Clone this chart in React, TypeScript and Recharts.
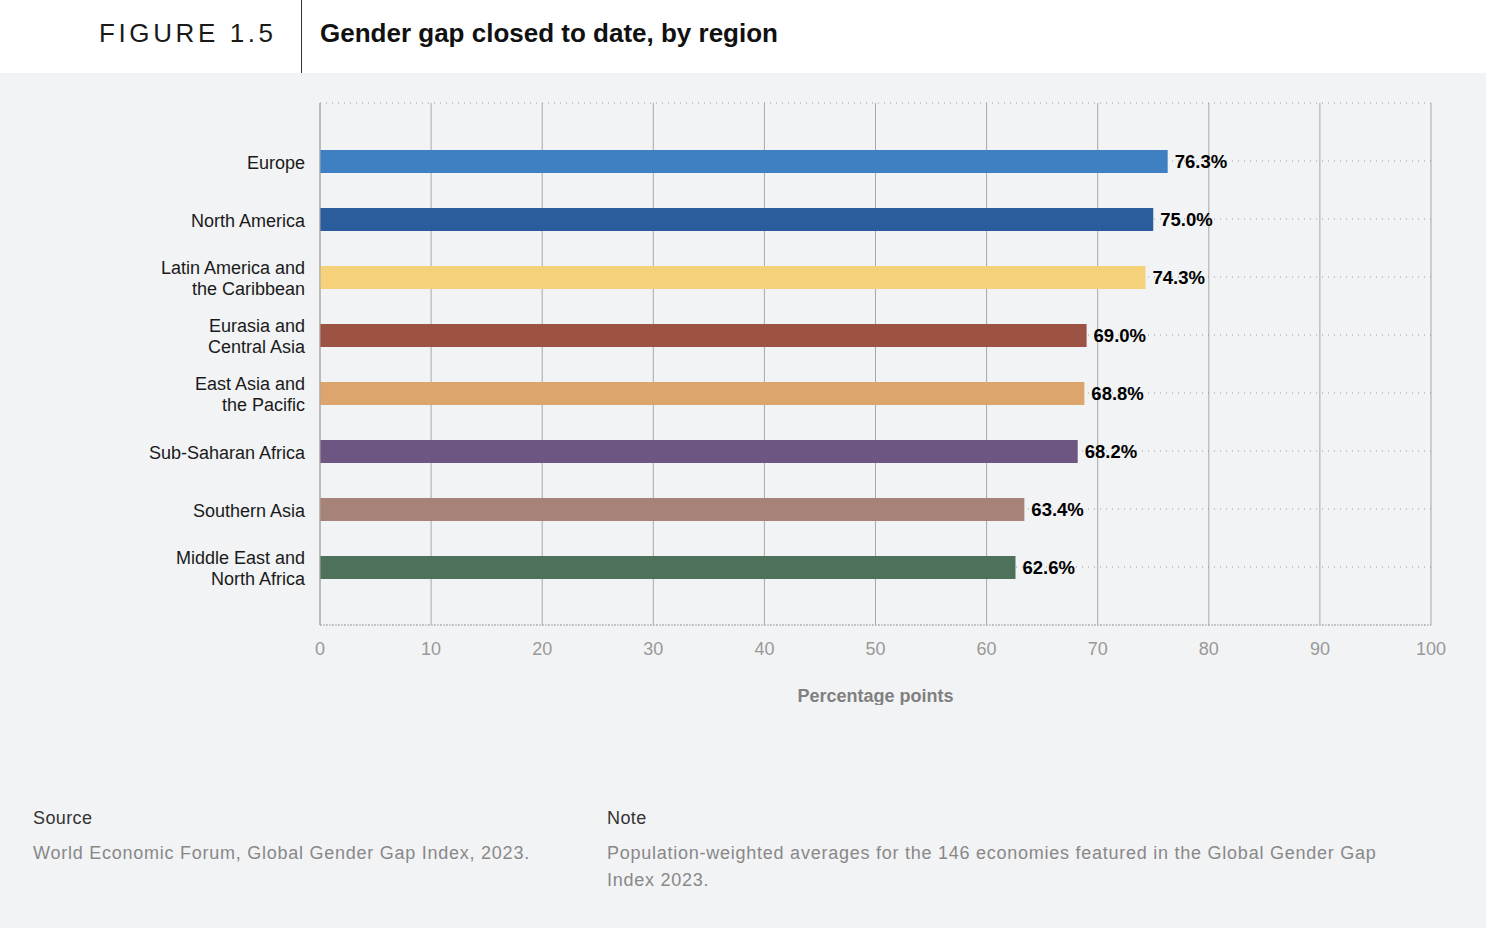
import React from "react";
import { BarChart, Bar, XAxis, YAxis, CartesianGrid, LabelList, Cell } from "recharts";

const regions = [
  "Europe",
  "North America",
  "Latin America and\nthe Caribbean",
  "Eurasia and\nCentral Asia",
  "East Asia and\nthe Pacific",
  "Sub-Saharan Africa",
  "Southern Asia",
  "Middle East and\nNorth Africa",
];
const values = [76.3, 75.0, 74.3, 69.0, 68.8, 68.2, 63.4, 62.6];
const colors = ["#3e80c2", "#2b5c9c", "#f5d27a", "#9d5343", "#dca56d", "#6e5683", "#a68279", "#4e715c"];
const xTicks = [0, 10, 20, 30, 40, 50, 60, 70, 80, 90, 100];

const data = regions.map((r, i) => ({ region: r, value: values[i] }));

const FONT = "'Liberation Sans', 'Helvetica Neue', Helvetica, Arial, sans-serif";

const YTick = (props: any) => {
  const { x, y, payload } = props;
  const lines = String(payload.value).split("\n");
  const lh = 21;
  const start = -((lines.length - 1) * lh) / 2 + 1.5;
  return (
    <text x={x} y={y} textAnchor="end" fontSize={18} fill="#1a1a1a" fontFamily={FONT}>
      {lines.map((l, i) => (
        <tspan key={i} x={x} y={y + start + i * lh} dominantBaseline="central">
          {l}
        </tspan>
      ))}
    </text>
  );
};

export default function App() {
  return (
    <div
      style={{
        position: "absolute",
        left: 0,
        top: 0,
        width: 1486,
        height: 928,
        background: "#f2f3f5",
        fontFamily: FONT,
        overflow: "hidden",
      }}
    >
      <div style={{ position: "absolute", left: 0, top: 0, width: 1486, height: 73, background: "#ffffff" }} />
      <div style={{ position: "absolute", left: 301, top: 0, width: 1, height: 73, background: "#333" }} />
      <div
        style={{
          position: "absolute",
          left: 99,
          top: 16,
          fontSize: 26,
          letterSpacing: 3.6,
          color: "#1a1a1a",
          lineHeight: "34px",
        }}
      >
        FIGURE 1.5
      </div>
      <div
        style={{
          position: "absolute",
          left: 320,
          top: 16,
          fontSize: 26,
          fontWeight: 700,
          color: "#111",
          lineHeight: "34px",
          letterSpacing: 0,
        }}
      >
        Gender gap closed to date, by region
      </div>

      <div style={{ position: "absolute", left: 0, top: 73 }}>
        <BarChart
          width={1486}
          height={632}
          data={data}
          layout="vertical"
          margin={{ top: 30, right: 55, bottom: 0, left: 0 }}
          barCategoryGap={0}
        >
          <CartesianGrid horizontal={false} vertical={true} stroke="#a8a8a8" strokeWidth={1} />
          <CartesianGrid horizontal={true} vertical={false} stroke="#9a9a9a" strokeDasharray="1 5" />
          <XAxis
            type="number"
            domain={[0, 100]}
            ticks={xTicks}
            tickSize={0}
            tickMargin={17}
            axisLine={{ stroke: "#a8a8a8", strokeDasharray: "2 1" }}
            tick={{ fill: "#999", fontSize: 18, fontFamily: FONT }}
            height={80}
            label={{
              value: "Percentage points",
              position: "insideBottom",
              offset: 3,
              fill: "#808080",
              fontSize: 18,
              fontWeight: 700,
              fontFamily: FONT,
            }}
          />
          <XAxis
            xAxisId="top"
            orientation="top"
            type="number"
            domain={[0, 100]}
            ticks={xTicks}
            tick={false}
            tickLine={false}
            height={0}
            axisLine={{ stroke: "#a8a8a8", strokeDasharray: "2 1" }}
          />
          <YAxis
            type="category"
            dataKey="region"
            width={320}
            tickSize={0}
            tickMargin={15}
            axisLine={{ stroke: "#a8a8a8" }}
            tick={<YTick />}
            padding={{ top: 29, bottom: 29 }}
            interval={0}
          />
          <Bar dataKey="value" barSize={23} isAnimationActive={false}>
            {data.map((d, i) => (
              <Cell key={d.region} fill={colors[i]} />
            ))}
            <LabelList
              dataKey="value"
              position="right"
              offset={7}
              formatter={(v: any) => Number(v).toFixed(1) + "%"}
              style={{ fill: "#000", fontSize: 18.5, fontWeight: 700, fontFamily: FONT }}
            />
          </Bar>
        </BarChart>
      </div>

      <div style={{ position: "absolute", left: 33, top: 806, fontSize: 18, color: "#333", lineHeight: "24px", letterSpacing: 0.4 }}>
        Source
      </div>
      <div style={{ position: "absolute", left: 33, top: 840, fontSize: 18, color: "#888", lineHeight: "27px", letterSpacing: 0.75 }}>
        World Economic Forum, Global Gender Gap Index, 2023.
      </div>
      <div style={{ position: "absolute", left: 607, top: 806, fontSize: 18, color: "#333", lineHeight: "24px", letterSpacing: 0.4 }}>
        Note
      </div>
      <div
        style={{
          position: "absolute",
          left: 607,
          top: 840,
          width: 790,
          fontSize: 18,
          color: "#888",
          lineHeight: "27px",
          letterSpacing: 0.75,
        }}
      >
        Population-weighted averages for the 146 economies featured in the Global Gender Gap Index 2023.
      </div>
    </div>
  );
}
